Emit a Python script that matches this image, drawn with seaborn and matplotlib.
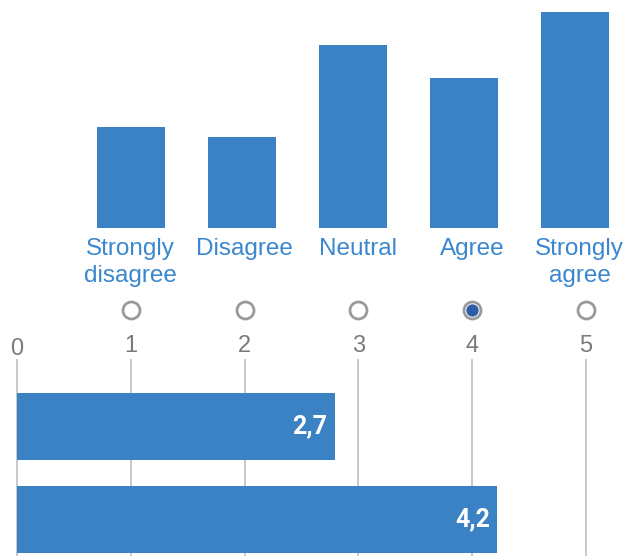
import matplotlib
matplotlib.use("Agg")
import matplotlib.pyplot as plt
import matplotlib.transforms as mtransforms
import seaborn as sns

# Data
categories = ["Strongly\ndisagree", "Disagree", "Neutral", "Agree", "Strongly\nagree"]
counts = [14, 12.7, 25.5, 20.9, 30]
scale_points = [1, 2, 3, 4, 5]
selected = 4
rows = ["Mean A", "Mean B"]
means = [2.79, 4.22]
mean_labels = ["2,7", "4,2"]

BLUE = "#3b82c4"
TEXT_BLUE = "#3a87cf"
GRAY = "#7a7a7a"

sns.set_theme(style="white")
plt.rcParams["font.family"] = ["Liberation Sans", "DejaVu Sans"]

W, H = 626, 556
fig = plt.figure(figsize=(W / 100, H / 100), dpi=100)

# top: distribution of answers
ax_top = fig.add_axes([0, (H - 228) / H, 1, 228 / H])
sns.barplot(x=categories, y=counts, ax=ax_top, color=BLUE, saturation=1,
            width=0.613, linewidth=0)
ax_top.set_xlim(-131 / 111, 495 / 111)
ax_top.set_ylim(0, 31.7)
ax_top.axis("off")

# bottom scale shared by the radio row and the mean bars
xlim = (-17 / 113.8, 609 / 113.8)

# middle: labels and radio buttons
ax_mid = fig.add_axes([0, (H - 359) / H, 1, 131 / H])
ax_mid.set_xlim(*xlim)
ax_mid.set_ylim(359, 228)
ax_mid.axis("off")
ax_mid.scatter(scale_points, [310] * len(scale_points), s=150, facecolor="white",
               edgecolor="#9a9a9a", linewidth=2.0, zorder=2, clip_on=False)
ax_mid.scatter([selected], [310], s=62, color="#2c5ea8", zorder=3, clip_on=False)
for x, lab in zip(scale_points, categories):
    if x == scale_points[-1]:
        ax_mid.text(0.997, 238, lab, transform=ax_mid.get_yaxis_transform(),
                    ha="right", va="top", multialignment="center",
                    color=TEXT_BLUE, fontsize=17.5, linespacing=1.3)
    else:
        ax_mid.text(x, 238, lab, ha="center", va="top", multialignment="center",
                    color=TEXT_BLUE, fontsize=17.5, linespacing=1.3)

# bottom: mean bars
ax_bot = fig.add_axes([0, 0, 1, (H - 359) / H])
sns.barplot(x=means, y=rows, orient="h", ax=ax_bot, color=BLUE, saturation=1,
            width=0.72, linewidth=0)
ax_bot.set_xlim(*xlim)
ax_bot.set_ylim(1.392, -0.726)
ax_bot.xaxis.tick_top()
ax_bot.set_xticks(range(6))
ax_bot.tick_params(axis="x", length=0, pad=1.5, labelsize=17, labelcolor=GRAY)
ax_bot.tick_params(axis="y", left=False, labelleft=False)
ax_bot.grid(axis="x", color="#c4c4c4", linewidth=1.3)
ax_bot.set_axisbelow(True)
ax_bot.set_xlabel("")
ax_bot.set_ylabel("")
for s in ax_bot.spines.values():
    s.set_visible(False)

lbl0 = ax_bot.get_xticklabels()[0]
lbl0.set_transform(lbl0.get_transform() +
                   mtransforms.ScaledTranslation(0, -3 / 100, fig.dpi_scale_trans))

for i, (v, lab) in enumerate(zip(means, mean_labels)):
    ax_bot.annotate(lab, xy=(v, i), xytext=(-7, 0), textcoords="offset pixels",
                    ha="right", va="center", color="white", fontsize=18,
                    fontweight="bold", family=["Roboto", "DejaVu Sans"])

fig.savefig("out.png", dpi=100)
